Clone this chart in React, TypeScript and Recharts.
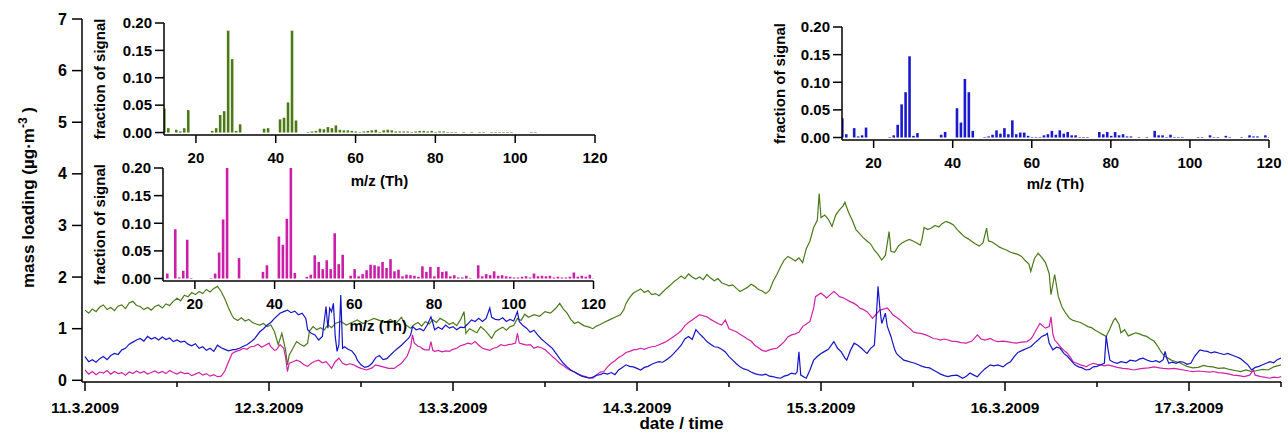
import { LineChart, Line, BarChart, Bar, XAxis, YAxis, Label } from "recharts";

const FONT = '"Liberation Sans", Arial, Helvetica, sans-serif';

// colours of the three factors
const GREEN = "#4b7a1a";
const MAGENTA = "#d21fa8";
const BLUE = "#1414c8";

// x ticks of the time axis: days after 11.3.2009 00:00
const dayTicks = [0, 0.5, 1, 1.5, 2, 2.5, 3, 3.5, 4, 4.5, 5, 5.5, 6, 6.5];
const dayLabels = ["11.3.2009", "12.3.2009", "13.3.2009", "14.3.2009", "15.3.2009", "16.3.2009", "17.3.2009"];
const loadTicks = [0, 1, 2, 3, 4, 5, 6, 7];
const mzTicks = [20, 40, 60, 80, 100, 120];
const fracTicks = [0, 0.05, 0.1, 0.15, 0.2];

// time series [day, mass loading in µg/m3]
const greenSeries: [number, number][] = [
  [0, 1.36], [0.02, 1.3], [0.04, 1.38], [0.06, 1.33], [0.08, 1.42], [0.1, 1.46], [0.12, 1.37], [0.14, 1.41],
  [0.16, 1.35], [0.18, 1.44], [0.2, 1.46], [0.22, 1.39], [0.24, 1.5], [0.26, 1.53], [0.28, 1.45], [0.3, 1.43],
  [0.32, 1.37], [0.34, 1.41], [0.36, 1.36], [0.38, 1.43], [0.4, 1.46], [0.42, 1.4], [0.44, 1.48], [0.46, 1.45],
  [0.48, 1.53], [0.5, 1.59], [0.52, 1.54], [0.54, 1.65], [0.56, 1.62], [0.58, 1.7], [0.6, 1.66], [0.62, 1.72],
  [0.64, 1.68], [0.66, 1.76], [0.68, 1.71], [0.7, 1.78], [0.72, 1.82], [0.74, 1.72], [0.76, 1.58], [0.78, 1.4],
  [0.8, 1.25], [0.81, 1.2], [0.83, 1.16], [0.85, 1.21], [0.87, 1.15], [0.89, 1.18], [0.91, 1.12], [0.93, 1.09],
  [0.95, 1.07], [0.97, 1.1], [0.99, 1.04], [1.01, 1.07], [1.03, 0.94], [1.05, 0.69], [1.07, 0.91], [1.09, 0.59],
  [1.1, 0.3], [1.11, 0.49], [1.13, 0.62], [1.15, 0.75], [1.17, 0.7], [1.19, 0.66], [1.21, 0.72], [1.22, 0.96],
  [1.24, 1.04], [1.26, 0.98], [1.28, 1.02], [1.3, 0.97], [1.32, 1.08], [1.34, 1.02], [1.36, 1.1], [1.39, 1.14],
  [1.42, 1.07], [1.45, 1.12], [1.48, 1.17], [1.51, 1.1], [1.54, 1.15], [1.57, 1.2], [1.6, 1.16], [1.63, 1.12],
  [1.66, 1.18], [1.69, 1.1], [1.72, 1.22], [1.74, 1.08], [1.77, 1.01], [1.79, 1.08], [1.81, 1.12], [1.83, 1.05],
  [1.85, 1.14], [1.87, 1.09], [1.89, 1.17], [1.91, 1.12], [1.93, 1.2], [1.96, 1.14], [1.98, 1.08], [2.0, 1.12],
  [2.02, 1.06], [2.04, 1.17], [2.06, 1.33], [2.07, 0.91], [2.09, 1.0], [2.11, 0.96], [2.13, 0.92], [2.15, 1.04],
  [2.17, 0.98], [2.19, 0.9], [2.21, 0.81], [2.23, 0.94], [2.25, 0.99], [2.27, 1.03], [2.29, 0.97], [2.31, 1.04],
  [2.33, 1.06], [2.35, 1.2], [2.37, 1.16], [2.39, 1.28], [2.41, 1.22], [2.44, 1.27], [2.47, 1.24], [2.5, 1.33],
  [2.53, 1.3], [2.56, 1.4], [2.58, 1.49], [2.6, 1.38], [2.62, 1.3], [2.64, 1.18], [2.66, 1.1], [2.68, 1.13],
  [2.71, 1.06], [2.74, 1.03], [2.76, 1.0], [2.78, 1.05], [2.8, 1.08], [2.82, 1.12], [2.85, 1.17], [2.88, 1.22],
  [2.91, 1.27], [2.93, 1.38], [2.94, 1.49], [2.96, 1.6], [2.98, 1.69], [3.0, 1.73], [3.02, 1.77], [3.04, 1.7],
  [3.06, 1.74], [3.08, 1.66], [3.1, 1.68], [3.12, 1.64], [3.14, 1.71], [3.16, 1.78], [3.18, 1.84], [3.2, 1.91],
  [3.22, 1.96], [3.24, 2.02], [3.26, 1.97], [3.28, 2.06], [3.3, 2.0], [3.32, 1.96], [3.34, 2.0], [3.36, 1.95],
  [3.38, 2.05], [3.4, 1.98], [3.42, 1.93], [3.44, 1.97], [3.46, 1.89], [3.48, 1.86], [3.5, 1.83], [3.52, 1.85],
  [3.54, 1.78], [3.56, 1.72], [3.58, 1.76], [3.6, 1.8], [3.62, 1.86], [3.64, 1.82], [3.66, 1.76], [3.68, 1.73],
  [3.7, 1.68], [3.72, 1.74], [3.74, 1.92], [3.76, 2.05], [3.78, 2.2], [3.8, 2.33], [3.82, 2.4], [3.84, 2.36],
  [3.86, 2.31], [3.88, 2.37], [3.9, 2.28], [3.92, 2.55], [3.94, 2.7], [3.96, 2.96], [3.98, 3.1], [3.99, 3.62],
  [4.0, 3.15], [4.02, 3.2], [4.04, 3.12], [4.06, 2.98], [4.08, 3.2], [4.1, 3.3], [4.12, 3.38], [4.13, 3.45],
  [4.15, 3.25], [4.17, 3.1], [4.19, 2.92], [4.21, 2.84], [4.23, 2.76], [4.25, 2.7], [4.27, 2.64], [4.29, 2.52],
  [4.31, 2.44], [4.33, 2.33], [4.35, 2.42], [4.37, 2.88], [4.38, 2.5], [4.4, 2.48], [4.42, 2.6], [4.44, 2.66],
  [4.46, 2.7], [4.48, 2.73], [4.5, 2.7], [4.52, 2.66], [4.54, 2.62], [4.55, 2.75], [4.56, 2.96], [4.58, 2.92],
  [4.6, 2.95], [4.62, 3.0], [4.64, 2.97], [4.66, 3.04], [4.68, 3.08], [4.7, 3.05], [4.72, 3.01], [4.74, 2.92],
  [4.76, 2.85], [4.78, 2.78], [4.8, 2.74], [4.82, 2.69], [4.84, 2.64], [4.86, 2.6], [4.88, 2.66], [4.9, 2.95],
  [4.91, 2.7], [4.93, 2.68], [4.95, 2.63], [4.97, 2.58], [4.99, 2.55], [5.01, 2.52], [5.03, 2.48], [5.05, 2.46],
  [5.07, 2.44], [5.09, 2.4], [5.11, 2.32], [5.13, 2.25], [5.14, 2.11], [5.16, 2.36], [5.18, 2.46], [5.2, 2.38],
  [5.22, 2.28], [5.24, 2.07], [5.25, 1.66], [5.27, 2.05], [5.29, 1.62], [5.31, 1.42], [5.33, 1.3], [5.35, 1.2],
  [5.37, 1.16], [5.39, 1.14], [5.41, 1.12], [5.43, 1.08], [5.45, 1.04], [5.47, 1.02], [5.49, 0.97], [5.51, 0.93],
  [5.53, 0.89], [5.55, 0.85], [5.57, 1.0], [5.59, 1.16], [5.6, 1.2], [5.62, 1.08], [5.63, 0.92], [5.65, 0.98],
  [5.67, 0.86], [5.69, 0.89], [5.71, 0.92], [5.73, 0.9], [5.75, 0.87], [5.77, 0.85], [5.79, 0.8], [5.81, 0.76],
  [5.83, 0.66], [5.85, 0.54], [5.87, 0.46], [5.89, 0.42], [5.91, 0.38], [5.93, 0.36], [5.95, 0.34], [5.97, 0.3],
  [5.99, 0.27], [6.02, 0.24], [6.05, 0.25], [6.08, 0.29], [6.1, 0.27], [6.13, 0.26], [6.16, 0.23], [6.19, 0.24],
  [6.22, 0.21], [6.25, 0.19], [6.28, 0.17], [6.31, 0.2], [6.34, 0.17], [6.37, 0.19], [6.4, 0.21], [6.43, 0.2],
  [6.46, 0.26], [6.48, 0.28], [6.5, 0.3],
];

const blueSeries: [number, number][] = [
  [0, 0.46], [0.02, 0.36], [0.04, 0.4], [0.06, 0.35], [0.08, 0.42], [0.1, 0.46], [0.12, 0.4], [0.14, 0.48],
  [0.16, 0.52], [0.18, 0.5], [0.2, 0.59], [0.22, 0.62], [0.24, 0.7], [0.26, 0.74], [0.28, 0.78], [0.3, 0.81],
  [0.32, 0.76], [0.34, 0.85], [0.36, 0.8], [0.38, 0.83], [0.4, 0.78], [0.42, 0.84], [0.44, 0.79], [0.46, 0.82],
  [0.48, 0.75], [0.5, 0.78], [0.52, 0.74], [0.54, 0.76], [0.56, 0.7], [0.58, 0.67], [0.6, 0.71], [0.62, 0.62],
  [0.64, 0.65], [0.66, 0.58], [0.68, 0.62], [0.7, 0.56], [0.72, 0.68], [0.74, 0.63], [0.76, 0.6], [0.78, 0.57],
  [0.8, 0.59], [0.82, 0.6], [0.84, 0.62], [0.86, 0.66], [0.88, 0.69], [0.9, 0.74], [0.92, 0.8], [0.95, 0.94],
  [0.97, 1.0], [0.99, 1.07], [1.01, 1.12], [1.03, 1.2], [1.06, 1.3], [1.08, 1.33], [1.1, 1.36], [1.12, 1.31],
  [1.14, 1.34], [1.16, 1.27], [1.18, 1.3], [1.2, 1.2], [1.21, 0.98], [1.23, 0.91], [1.25, 0.88], [1.27, 0.78],
  [1.29, 0.85], [1.3, 1.14], [1.31, 1.43], [1.32, 1.01], [1.33, 1.4], [1.34, 1.33], [1.35, 1.49], [1.36, 0.85],
  [1.37, 0.56], [1.38, 0.69], [1.39, 1.65], [1.4, 0.62], [1.41, 0.65], [1.43, 0.6], [1.45, 0.57], [1.47, 0.48],
  [1.48, 0.39], [1.5, 0.3], [1.52, 0.25], [1.54, 0.27], [1.56, 0.33], [1.58, 0.44], [1.6, 0.48], [1.62, 0.4],
  [1.64, 0.42], [1.66, 0.49], [1.68, 0.56], [1.7, 0.62], [1.72, 0.68], [1.74, 0.75], [1.76, 0.82], [1.77, 0.88],
  [1.78, 1.04], [1.8, 0.98], [1.82, 1.0], [1.84, 0.96], [1.86, 1.07], [1.88, 1.23], [1.89, 1.12], [1.9, 0.98],
  [1.92, 1.03], [1.94, 0.99], [1.96, 1.07], [1.98, 1.01], [2.0, 1.04], [2.02, 0.98], [2.04, 1.03], [2.06, 1.02],
  [2.08, 1.09], [2.1, 1.17], [2.12, 1.14], [2.14, 1.2], [2.16, 1.14], [2.18, 1.2], [2.2, 1.4], [2.21, 1.22],
  [2.23, 1.18], [2.25, 1.17], [2.27, 1.21], [2.29, 1.14], [2.31, 1.18], [2.33, 1.15], [2.35, 1.33], [2.36, 1.14],
  [2.38, 1.06], [2.4, 1.01], [2.42, 0.93], [2.44, 0.97], [2.46, 0.88], [2.48, 0.8], [2.5, 0.74], [2.52, 0.68],
  [2.54, 0.62], [2.56, 0.52], [2.58, 0.42], [2.6, 0.33], [2.62, 0.26], [2.64, 0.2], [2.66, 0.16], [2.68, 0.12],
  [2.7, 0.08], [2.72, 0.06], [2.74, 0.04], [2.76, 0.06], [2.78, 0.1], [2.8, 0.11], [2.82, 0.14], [2.84, 0.12],
  [2.86, 0.15], [2.88, 0.11], [2.9, 0.2], [2.92, 0.25], [2.94, 0.3], [2.96, 0.27], [2.98, 0.26], [3.0, 0.23],
  [3.02, 0.2], [3.04, 0.25], [3.06, 0.27], [3.08, 0.31], [3.1, 0.34], [3.12, 0.36], [3.14, 0.35], [3.16, 0.4],
  [3.18, 0.45], [3.2, 0.52], [3.22, 0.6], [3.24, 0.68], [3.26, 0.8], [3.28, 0.85], [3.3, 0.79], [3.32, 0.98],
  [3.34, 0.9], [3.36, 0.83], [3.38, 0.75], [3.4, 0.7], [3.42, 0.65], [3.44, 0.64], [3.46, 0.6], [3.48, 0.55],
  [3.5, 0.46], [3.52, 0.39], [3.54, 0.32], [3.56, 0.26], [3.58, 0.22], [3.6, 0.2], [3.62, 0.16], [3.64, 0.13],
  [3.66, 0.11], [3.68, 0.1], [3.7, 0.12], [3.72, 0.08], [3.74, 0.07], [3.76, 0.05], [3.78, 0.04], [3.8, 0.08],
  [3.82, 0.1], [3.84, 0.14], [3.86, 0.12], [3.87, 0.16], [3.88, 0.55], [3.89, 0.1], [3.91, 0.06], [3.92, 0.04],
  [3.94, 0.2], [3.96, 0.39], [3.98, 0.46], [4.0, 0.52], [4.02, 0.56], [4.04, 0.6], [4.06, 0.7], [4.07, 0.75],
  [4.09, 0.62], [4.11, 0.55], [4.13, 0.43], [4.14, 0.39], [4.16, 0.58], [4.18, 0.72], [4.2, 0.68], [4.22, 0.62],
  [4.24, 0.55], [4.25, 0.52], [4.27, 0.62], [4.29, 0.68], [4.3, 1.2], [4.31, 1.82], [4.32, 1.4], [4.33, 1.1],
  [4.35, 1.3], [4.36, 1.05], [4.38, 0.85], [4.4, 0.6], [4.41, 0.52], [4.43, 0.45], [4.45, 0.39], [4.47, 0.37],
  [4.49, 0.35], [4.51, 0.33], [4.53, 0.3], [4.55, 0.27], [4.57, 0.25], [4.59, 0.24], [4.61, 0.2], [4.63, 0.16],
  [4.65, 0.12], [4.67, 0.09], [4.69, 0.07], [4.71, 0.09], [4.74, 0.1], [4.77, 0.04], [4.79, 0.08], [4.81, 0.14],
  [4.83, 0.1], [4.85, 0.07], [4.87, 0.15], [4.89, 0.22], [4.92, 0.3], [4.94, 0.28], [4.96, 0.3], [4.99, 0.26],
  [5.01, 0.32], [5.03, 0.36], [5.05, 0.46], [5.07, 0.54], [5.1, 0.59], [5.12, 0.62], [5.14, 0.65], [5.16, 0.72],
  [5.18, 0.78], [5.2, 0.85], [5.22, 0.88], [5.23, 0.91], [5.24, 0.72], [5.26, 0.59], [5.28, 0.64], [5.3, 0.62],
  [5.32, 0.52], [5.34, 0.46], [5.36, 0.38], [5.38, 0.3], [5.4, 0.26], [5.42, 0.24], [5.44, 0.2], [5.46, 0.21],
  [5.48, 0.26], [5.5, 0.27], [5.52, 0.3], [5.54, 0.33], [5.55, 0.86], [5.56, 0.6], [5.57, 0.39], [5.59, 0.35],
  [5.61, 0.33], [5.63, 0.36], [5.66, 0.34], [5.68, 0.39], [5.71, 0.37], [5.73, 0.41], [5.75, 0.43], [5.78, 0.38],
  [5.8, 0.36], [5.82, 0.38], [5.84, 0.35], [5.86, 0.4], [5.87, 0.56], [5.88, 0.42], [5.89, 0.33], [5.91, 0.35],
  [5.93, 0.33], [5.95, 0.36], [5.97, 0.35], [5.99, 0.31], [6.01, 0.33], [6.03, 0.46], [6.05, 0.55], [6.06, 0.59],
  [6.08, 0.57], [6.1, 0.56], [6.12, 0.53], [6.14, 0.55], [6.17, 0.52], [6.19, 0.5], [6.21, 0.52], [6.24, 0.48],
  [6.26, 0.45], [6.28, 0.42], [6.3, 0.36], [6.32, 0.3], [6.34, 0.2], [6.36, 0.25], [6.38, 0.27], [6.4, 0.3],
  [6.42, 0.33], [6.44, 0.36], [6.46, 0.34], [6.48, 0.4], [6.5, 0.43],
];

const magentaSeries: [number, number][] = [
  [0, 0.2], [0.02, 0.12], [0.04, 0.17], [0.06, 0.11], [0.08, 0.16], [0.1, 0.14], [0.12, 0.19], [0.14, 0.12],
  [0.16, 0.17], [0.18, 0.13], [0.2, 0.15], [0.22, 0.1], [0.24, 0.16], [0.26, 0.13], [0.28, 0.18], [0.3, 0.14],
  [0.32, 0.17], [0.34, 0.12], [0.36, 0.15], [0.38, 0.18], [0.4, 0.14], [0.42, 0.17], [0.44, 0.13], [0.46, 0.19],
  [0.48, 0.15], [0.5, 0.12], [0.52, 0.16], [0.54, 0.13], [0.56, 0.14], [0.58, 0.09], [0.6, 0.12], [0.62, 0.15],
  [0.64, 0.1], [0.66, 0.13], [0.68, 0.08], [0.7, 0.11], [0.72, 0.07], [0.74, 0.08], [0.76, 0.18], [0.78, 0.36],
  [0.8, 0.52], [0.82, 0.56], [0.84, 0.58], [0.86, 0.62], [0.88, 0.6], [0.9, 0.65], [0.92, 0.66], [0.94, 0.7],
  [0.96, 0.64], [0.98, 0.68], [1.0, 0.72], [1.01, 0.65], [1.03, 0.58], [1.04, 0.59], [1.06, 0.69], [1.08, 0.62],
  [1.09, 0.45], [1.1, 0.17], [1.11, 0.33], [1.13, 0.36], [1.15, 0.39], [1.17, 0.36], [1.19, 0.3], [1.21, 0.27],
  [1.23, 0.33], [1.25, 0.37], [1.27, 0.39], [1.29, 0.34], [1.31, 0.36], [1.33, 0.28], [1.34, 0.23], [1.36, 0.36],
  [1.38, 0.43], [1.4, 0.33], [1.42, 0.3], [1.44, 0.32], [1.46, 0.3], [1.48, 0.26], [1.5, 0.23], [1.53, 0.2],
  [1.56, 0.24], [1.58, 0.3], [1.61, 0.27], [1.63, 0.25], [1.65, 0.23], [1.68, 0.23], [1.7, 0.28], [1.72, 0.33],
  [1.74, 0.42], [1.75, 0.46], [1.77, 0.65], [1.78, 0.88], [1.79, 0.72], [1.81, 0.66], [1.82, 0.65], [1.84, 0.6],
  [1.85, 0.59], [1.87, 0.59], [1.88, 0.75], [1.89, 0.58], [1.9, 0.56], [1.92, 0.58], [1.94, 0.55], [1.96, 0.57],
  [1.98, 0.56], [2.0, 0.6], [2.02, 0.62], [2.04, 0.67], [2.06, 0.69], [2.08, 0.72], [2.1, 0.7], [2.12, 0.75],
  [2.14, 0.68], [2.16, 0.62], [2.18, 0.6], [2.2, 0.58], [2.22, 0.62], [2.24, 0.64], [2.26, 0.69], [2.28, 0.67],
  [2.3, 0.69], [2.32, 0.7], [2.34, 0.72], [2.35, 0.91], [2.36, 0.72], [2.38, 0.7], [2.4, 0.68], [2.42, 0.69],
  [2.44, 0.62], [2.46, 0.65], [2.48, 0.63], [2.5, 0.59], [2.52, 0.53], [2.54, 0.46], [2.56, 0.4], [2.58, 0.33],
  [2.6, 0.28], [2.62, 0.23], [2.64, 0.19], [2.66, 0.16], [2.68, 0.12], [2.7, 0.09], [2.72, 0.07], [2.74, 0.05],
  [2.76, 0.04], [2.78, 0.1], [2.8, 0.16], [2.82, 0.17], [2.84, 0.26], [2.86, 0.33], [2.88, 0.38], [2.9, 0.44],
  [2.92, 0.48], [2.94, 0.54], [2.96, 0.56], [2.98, 0.59], [3.0, 0.6], [3.02, 0.62], [3.04, 0.6], [3.06, 0.63],
  [3.08, 0.65], [3.1, 0.66], [3.12, 0.69], [3.14, 0.72], [3.16, 0.75], [3.18, 0.8], [3.2, 0.85], [3.22, 0.9],
  [3.24, 0.96], [3.26, 1.06], [3.28, 1.12], [3.3, 1.17], [3.32, 1.22], [3.34, 1.27], [3.36, 1.25], [3.38, 1.23],
  [3.4, 1.18], [3.42, 1.14], [3.44, 1.1], [3.46, 1.07], [3.48, 1.17], [3.5, 1.0], [3.52, 0.97], [3.54, 0.94],
  [3.56, 0.89], [3.58, 0.85], [3.6, 0.8], [3.62, 0.76], [3.64, 0.68], [3.66, 0.63], [3.68, 0.58], [3.7, 0.56],
  [3.72, 0.59], [3.74, 0.61], [3.76, 0.62], [3.78, 0.68], [3.8, 0.75], [3.82, 0.84], [3.84, 0.88], [3.86, 0.9],
  [3.88, 0.93], [3.9, 1.04], [3.92, 1.09], [3.94, 1.14], [3.96, 1.4], [3.97, 1.62], [4.0, 1.69], [4.02, 1.63],
  [4.03, 1.59], [4.05, 1.66], [4.07, 1.72], [4.09, 1.66], [4.1, 1.62], [4.12, 1.6], [4.14, 1.56], [4.16, 1.52],
  [4.18, 1.49], [4.2, 1.44], [4.21, 1.4], [4.23, 1.37], [4.25, 1.33], [4.27, 1.25], [4.28, 1.2], [4.3, 1.28],
  [4.32, 1.36], [4.34, 1.38], [4.36, 1.4], [4.38, 1.32], [4.39, 1.27], [4.41, 1.22], [4.43, 1.17], [4.45, 1.1],
  [4.47, 1.04], [4.49, 0.98], [4.5, 0.94], [4.52, 0.92], [4.54, 0.91], [4.56, 0.89], [4.57, 0.88], [4.59, 0.85],
  [4.61, 0.81], [4.63, 0.8], [4.65, 0.78], [4.67, 0.8], [4.69, 0.78], [4.71, 0.76], [4.74, 0.75], [4.76, 0.73],
  [4.79, 0.72], [4.82, 0.76], [4.85, 0.88], [4.87, 0.8], [4.89, 0.78], [4.92, 0.81], [4.94, 0.77], [4.96, 0.75],
  [4.99, 0.76], [5.01, 0.75], [5.04, 0.73], [5.06, 0.72], [5.09, 0.74], [5.12, 0.75], [5.14, 0.8], [5.15, 0.85],
  [5.17, 0.98], [5.19, 1.1], [5.21, 1.04], [5.22, 1.01], [5.24, 1.04], [5.25, 1.23], [5.26, 0.9], [5.27, 0.78],
  [5.29, 0.7], [5.3, 0.65], [5.32, 0.58], [5.34, 0.52], [5.36, 0.42], [5.37, 0.36], [5.39, 0.33], [5.41, 0.3],
  [5.43, 0.28], [5.44, 0.26], [5.46, 0.3], [5.48, 0.33], [5.5, 0.31], [5.52, 0.3], [5.54, 0.28], [5.56, 0.3],
  [5.59, 0.27], [5.61, 0.25], [5.64, 0.23], [5.67, 0.22], [5.7, 0.2], [5.73, 0.22], [5.75, 0.23], [5.78, 0.24],
  [5.81, 0.26], [5.84, 0.24], [5.86, 0.23], [5.89, 0.22], [5.92, 0.23], [5.95, 0.21], [5.97, 0.2], [6.0, 0.18],
  [6.02, 0.17], [6.05, 0.18], [6.08, 0.17], [6.11, 0.16], [6.13, 0.17], [6.16, 0.15], [6.19, 0.14], [6.22, 0.12],
  [6.24, 0.1], [6.27, 0.09], [6.3, 0.07], [6.32, 0.09], [6.33, 0.1], [6.35, 0.2], [6.36, 0.1], [6.39, 0.07],
  [6.41, 0.06], [6.44, 0.04], [6.46, 0.06], [6.48, 0.05], [6.5, 0.07],
];

// factor mass spectra [m/z, fraction of signal]
const greenSpectrum: [number, number][] = [
  [12, 0.044], [13, 0.008], [15, 0.005], [16, 0.002], [17, 0.008], [18, 0.041], [24, 0.003], [25, 0.008],
  [26, 0.032], [27, 0.039], [28, 0.186], [29, 0.134], [30, 0.003], [31, 0.015], [37, 0.007], [38, 0.008],
  [41, 0.024], [42, 0.027], [43, 0.055], [44, 0.186], [45, 0.022], [48, 0.001], [49, 0.002], [50, 0.003],
  [51, 0.007], [52, 0.006], [53, 0.01], [54, 0.008], [55, 0.013], [56, 0.005], [57, 0.004], [58, 0.004],
  [59, 0.003], [60, 0.002], [61, 0.001], [62, 0.002], [63, 0.003], [64, 0.004], [65, 0.005], [66, 0.001],
  [67, 0.004], [68, 0.005], [69, 0.004], [70, 0.002], [71, 0.002], [72, 0.002], [73, 0.002], [74, 0.001],
  [75, 0.002], [76, 0.003], [77, 0.003], [78, 0.002], [79, 0.003], [80, 0.001], [81, 0.002], [82, 0.002],
  [83, 0.001], [84, 0.001], [85, 0.001], [87, 0.001], [89, 0.001], [91, 0.001], [92, 0.001], [94, 0.001],
  [95, 0.001], [96, 0.001], [97, 0.001], [98, 0.001], [99, 0.001], [104, 0.001], [105, 0.001],
];

const magentaSpectrum: [number, number][] = [
  [13, 0.009], [15, 0.089], [16, 0.002], [17, 0.014], [18, 0.07], [19, 0.001], [24, 0.001], [25, 0.009],
  [26, 0.047], [27, 0.107], [28, 0.2], [31, 0.037], [37, 0.012], [38, 0.024], [41, 0.076], [42, 0.061],
  [43, 0.108], [44, 0.2], [45, 0.01], [48, 0.003], [49, 0.007], [50, 0.042], [51, 0.03], [52, 0.017],
  [53, 0.033], [54, 0.017], [55, 0.082], [56, 0.026], [57, 0.043], [59, 0.005], [60, 0.017], [61, 0.004],
  [62, 0.008], [63, 0.015], [64, 0.025], [65, 0.024], [66, 0.022], [67, 0.03], [68, 0.019], [69, 0.035],
  [70, 0.013], [71, 0.016], [72, 0.004], [73, 0.007], [74, 0.006], [75, 0.005], [76, 0.003], [77, 0.022],
  [78, 0.012], [79, 0.021], [80, 0.004], [81, 0.021], [82, 0.012], [83, 0.013], [84, 0.004], [85, 0.006],
  [86, 0.002], [87, 0.002], [88, 0.005], [89, 0.001], [91, 0.024], [92, 0.004], [93, 0.008], [94, 0.006],
  [95, 0.013], [96, 0.005], [97, 0.006], [98, 0.004], [99, 0.003], [100, 0.002], [101, 0.002], [102, 0.003],
  [103, 0.004], [104, 0.002], [105, 0.009], [106, 0.004], [107, 0.005], [108, 0.004], [109, 0.005], [110, 0.002],
  [111, 0.003], [112, 0.002], [113, 0.002], [114, 0.003], [115, 0.011], [116, 0.003], [117, 0.005], [118, 0.003],
  [119, 0.007], [120, 0.001],
];

const blueSpectrum: [number, number][] = [
  [12, 0.035], [13, 0.006], [15, 0.017], [16, 0.002], [17, 0.004], [18, 0.018], [24, 0.001], [25, 0.004],
  [26, 0.023], [27, 0.06], [28, 0.082], [29, 0.147], [30, 0.003], [31, 0.008], [37, 0.005], [38, 0.01],
  [41, 0.053], [42, 0.027], [43, 0.106], [44, 0.082], [45, 0.012], [48, 0.001], [49, 0.002], [50, 0.005],
  [51, 0.013], [52, 0.007], [53, 0.017], [54, 0.006], [55, 0.031], [56, 0.006], [57, 0.009], [58, 0.009],
  [59, 0.003], [60, 0.001], [61, 0.001], [62, 0.001], [63, 0.004], [64, 0.006], [65, 0.012], [66, 0.005],
  [67, 0.013], [68, 0.007], [69, 0.01], [70, 0.004], [71, 0.004], [72, 0.001], [73, 0.001], [74, 0.001],
  [77, 0.01], [78, 0.006], [79, 0.01], [80, 0.003], [81, 0.01], [82, 0.004], [83, 0.006], [84, 0.002],
  [85, 0.002], [87, 0.001], [89, 0.001], [91, 0.012], [92, 0.004], [93, 0.004], [94, 0.001], [95, 0.005],
  [96, 0.001], [97, 0.001], [98, 0.001], [102, 0.001], [103, 0.001], [105, 0.004], [106, 0.001], [107, 0.001],
  [109, 0.003], [110, 0.001], [113, 0.001], [115, 0.004], [116, 0.002], [117, 0.002], [119, 0.004], [120, 0.001],
];

const toPoints = (rows: [number, number][]) => rows.map(([d, v]) => ({ d, v }));
const toBars = (rows: [number, number][]) => rows.map(([mz, f]) => ({ mz, f }));

const txt = { fontFamily: FONT, fontWeight: 700, fill: "#000" };

function DayTick(props: any) {
  const { x, y, payload } = props;
  const major = Number.isInteger(payload.value);
  return (
    <g>
      <line x1={x} x2={x} y1={y} y2={y + (major ? 9 : 5)} stroke="#000" strokeWidth={1.5} />
      {major && (
        <text x={x} y={y + 31} textAnchor="middle" fontSize={15.5} {...txt}>
          {dayLabels[payload.value]}
        </text>
      )}
    </g>
  );
}

function LoadTick(props: any) {
  const { x, y, payload } = props;
  return (
    <g>
      <line x1={x - 10} x2={x} y1={y} y2={y} stroke="#000" strokeWidth={1.5} />
      <text x={x - 15} y={y} dy={5.5} textAnchor="end" fontSize={16} {...txt}>
        {payload.value}
      </text>
    </g>
  );
}

function MzTick(props: any) {
  const { x, y, payload } = props;
  return (
    <g>
      <line x1={x} x2={x} y1={y} y2={y + 8} stroke="#000" strokeWidth={1.5} />
      <text x={x} y={y + 28} textAnchor="middle" fontSize={15} {...txt}>
        {payload.value}
      </text>
    </g>
  );
}

function FracTick(props: any) {
  const { x, y, payload } = props;
  return (
    <g>
      <line x1={x - 9} x2={x} y1={y} y2={y} stroke="#000" strokeWidth={1.5} />
      <text x={x - 12} y={y} dy={5.3} textAnchor="end" fontSize={15} {...txt}>
        {Number(payload.value).toFixed(2)}
      </text>
    </g>
  );
}

function MassLoadingTitle(props: any) {
  const vb = props.viewBox || { y: 19, height: 363 };
  const cx = 34;
  const cy = vb.y + vb.height / 2 - 3;
  return (
    <text x={cx} y={cy} transform={`rotate(-90 ${cx} ${cy})`} textAnchor="middle" fontSize={17} {...txt}>
      mass loading (µg·m
      <tspan dy={-7} fontSize={12}>-3</tspan>
      <tspan dy={7}> )</tspan>
    </text>
  );
}

interface SpectrumProps {
  rows: [number, number][];
  color: string;
  left: number;
  top: number;
  width: number;
  axisX: number;
  plotRight: number;
  plotTop: number;
  plotBottom: number;
  titleOffset: number;
}

function Spectrum({ rows, color, left, top, width, axisX, plotRight, plotTop, plotBottom, titleOffset }: SpectrumProps) {
  const height = 200;
  return (
    <div style={{ position: "absolute", left, top }}>
      <BarChart
        width={width}
        height={height}
        data={toBars(rows)}
        margin={{ top: plotTop, right: width - plotRight, left: 0, bottom: 0 }}
      >
        <XAxis
          type="number"
          dataKey="mz"
          domain={[12, 120]}
          allowDataOverflow
          ticks={mzTicks}
          interval={0}
          height={height - plotBottom}
          tickSize={0}
          tickMargin={0}
          tick={MzTick}
          axisLine={{ stroke: "#000", strokeWidth: 1.5 }}
        >
          <Label value="m/z (Th)" position="insideBottom" offset={titleOffset} fontSize={15} {...txt} />
        </XAxis>
        <YAxis
          type="number"
          domain={[-0.0045, 0.2]}
          allowDataOverflow
          ticks={fracTicks}
          interval={0}
          width={axisX}
          tickSize={0}
          tickMargin={0}
          tick={FracTick}
          axisLine={{ stroke: "#000", strokeWidth: 1.5 }}
        >
          <Label
            value="fraction of signal"
            angle={-90}
            position="insideLeft"
            offset={100}
            fontSize={15}
            style={{ textAnchor: "middle" }}
            {...txt}
          />
        </YAxis>
        <Bar dataKey="f" fill={color} barSize={2.6} isAnimationActive={false} />
      </BarChart>
    </div>
  );
}

export default function App() {
  return (
    <div style={{ position: "absolute", left: 0, top: 0, width: 1288, height: 434, background: "#fff", fontFamily: FONT }}>
      <LineChart width={1288} height={434} margin={{ top: 19, right: 7, left: 0, bottom: 0 }}>
        <XAxis
          type="number"
          dataKey="d"
          domain={[-0.0163, 6.5]}
          allowDataOverflow
          ticks={dayTicks}
          interval={0}
          height={52}
          tickSize={0}
          tickMargin={0}
          tick={DayTick}
          axisLine={{ stroke: "#000", strokeWidth: 1.5 }}
        >
          <Label value="date / time" position="insideBottom" offset={5} fontSize={17} {...txt} />
        </XAxis>
        <YAxis
          type="number"
          dataKey="v"
          domain={[-0.033, 7]}
          allowDataOverflow
          ticks={loadTicks}
          interval={0}
          width={82}
          tickSize={0}
          tickMargin={0}
          tick={LoadTick}
          axisLine={{ stroke: "#000", strokeWidth: 1.5 }}
        >
          <Label content={MassLoadingTitle} />
        </YAxis>
        <Line data={toPoints(greenSeries)} dataKey="v" stroke={GREEN} strokeWidth={1.2} dot={false} isAnimationActive={false} />
        <Line data={toPoints(magentaSeries)} dataKey="v" stroke={MAGENTA} strokeWidth={1.2} dot={false} isAnimationActive={false} />
        <Line data={toPoints(blueSeries)} dataKey="v" stroke={BLUE} strokeWidth={1.2} dot={false} isAnimationActive={false} />
      </LineChart>

      <Spectrum rows={greenSpectrum} color="#4b7a16" left={0} top={0} width={620} axisX={164} plotRight={595} plotTop={23} plotBottom={135} titleOffset={14} />
      <Spectrum rows={magentaSpectrum} color="#cc1fa8" left={0} top={140} width={620} axisX={163} plotRight={593.5} plotTop={28} plotBottom={141} titleOffset={9} />
      <Spectrum rows={blueSpectrum} color="#1a1acc" left={680} top={0} width={608} axisX={162} plotRight={1269 - 680} plotTop={27} plotBottom={140} titleOffset={11} />
    </div>
  );
}
